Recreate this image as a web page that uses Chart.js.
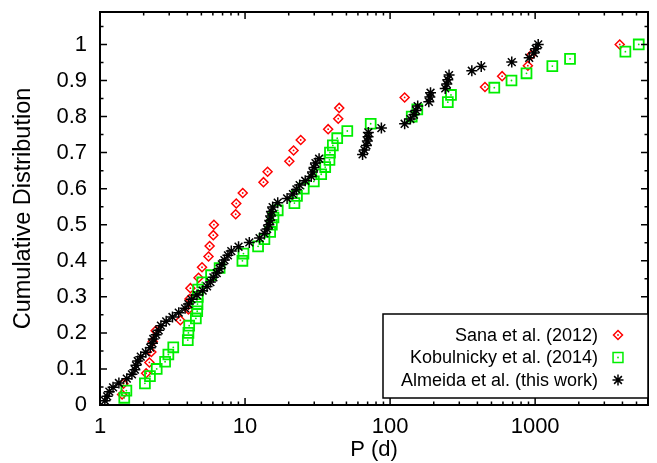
<!DOCTYPE html>
<html>
<head>
<meta charset="utf-8">
<script src="https://cdn.jsdelivr.net/npm/chart.js@4.4.0/dist/chart.umd.min.js"></script>
<style>
  html, body { margin: 0; padding: 0; background: #fff; }
  canvas { display: block; }
</style>
</head>
<body>
<canvas id="cdf" width="657" height="463"></canvas>
<script>
// axis ticks
const xTicks = [1, 10, 100, 1000];
const xTickLabels = ['1', '10', '100', '1000'];
const yTicks = [0, 0.1, 0.2, 0.3, 0.4, 0.5, 0.6, 0.7, 0.8, 0.9, 1];
const yTickLabels = ['0', '0.1', '0.2', '0.3', '0.4', '0.5', '0.6', '0.7', '0.8', '0.9', '1'];

// Sana et al. (2012): period (d) and cumulative fraction
const sanaP = [1.42, 1.45, 2.08, 2.19, 2.26, 2.31, 2.42, 3.58, 4.07, 4.14,
  4.2, 4.78, 5.05, 5.6, 5.7, 6.04, 6.1, 8.62, 8.7, 9.64,
  13.4, 14.3, 20.2, 21.6, 24.2, 37.4, 43.9, 44.6, 126, 451,
  592, 891, 940, 3830];
const sanaF = [0.029, 0.059, 0.088, 0.118, 0.147, 0.176, 0.206, 0.235, 0.265, 0.294,
  0.324, 0.353, 0.382, 0.412, 0.441, 0.471, 0.5, 0.529, 0.559, 0.588,
  0.618, 0.647, 0.676, 0.706, 0.735, 0.765, 0.794, 0.824, 0.853, 0.882,
  0.912, 0.941, 0.971, 1];

// Kobulnicky et al. (2014)
const kobP = [1.47, 1.52, 2.04, 2.21, 2.46, 2.81, 2.96, 3.2, 4.03, 4.07,
  4.12, 4.58, 4.68, 4.7, 4.72, 4.75, 5.07, 5.83, 6.68, 9.59,
  9.75, 12.3, 13.6, 14.9, 15.3, 15.7, 16.8, 21.9, 22.8, 25.4,
  29.8, 33.5, 35.7, 38.2, 38.5, 40.3, 43.2, 50.7, 73.5, 141,
  154, 250, 263, 523, 687, 872, 1314, 1740, 4190, 5180];
const kobF = [0.02, 0.04, 0.06, 0.08, 0.1, 0.12, 0.14, 0.16, 0.18, 0.2,
  0.22, 0.24, 0.26, 0.28, 0.3, 0.32, 0.34, 0.36, 0.38, 0.4,
  0.42, 0.44, 0.46, 0.48, 0.5, 0.52, 0.54, 0.56, 0.58, 0.6,
  0.62, 0.64, 0.66, 0.68, 0.7, 0.72, 0.74, 0.76, 0.78, 0.8,
  0.82, 0.84, 0.86, 0.88, 0.9, 0.92, 0.94, 0.96, 0.98, 1];

// Almeida et al. (this work)
const almP = [1.08, 1.12, 1.16, 1.23, 1.35, 1.53, 1.66, 1.74, 1.77, 1.82,
  1.91, 2.07, 2.22, 2.3, 2.33, 2.44, 2.54, 2.63, 2.86, 3.16,
  3.49, 3.86, 4.07, 4.27, 4.66, 5.1, 5.47, 5.77, 6.05, 6.38,
  6.68, 6.92, 7.21, 7.62, 8.04, 9.02, 10.7, 12.6, 13.6, 14.2,
  14.6, 14.8, 15.0, 15.2, 15.5, 16.8, 19.5, 21.4, 22.6, 23.8,
  26.0, 28.6, 29.2, 29.9, 30.6, 32.4, 64.6, 66.5, 68.7, 69.7,
  70.5, 70.8, 87.1, 126, 138, 146, 151, 155, 185, 188,
  190, 240, 246, 250, 255, 366, 425, 690, 910, 980,
  1010, 1050];
const almF = [0.012, 0.024, 0.037, 0.049, 0.061, 0.073, 0.085, 0.098, 0.11, 0.122,
  0.134, 0.146, 0.159, 0.171, 0.183, 0.195, 0.207, 0.22, 0.232, 0.244,
  0.256, 0.268, 0.28, 0.293, 0.305, 0.317, 0.329, 0.341, 0.354, 0.366,
  0.378, 0.39, 0.402, 0.415, 0.427, 0.439, 0.451, 0.463, 0.476, 0.488,
  0.5, 0.512, 0.524, 0.537, 0.549, 0.561, 0.573, 0.585, 0.598, 0.61,
  0.622, 0.634, 0.646, 0.659, 0.671, 0.683, 0.695, 0.707, 0.72, 0.732,
  0.744, 0.756, 0.768, 0.78, 0.793, 0.805, 0.817, 0.829, 0.841, 0.854,
  0.866, 0.878, 0.89, 0.902, 0.915, 0.927, 0.939, 0.951, 0.963, 0.976,
  0.988, 1];

const FONT = "'Liberation Sans', Arial, Helvetica, sans-serif";
const NONE = 'rgba(0,0,0,0)';

const toPoints = (xs, ys) => xs.map((x, i) => ({ x: x, y: ys[i] }));

const series = [
  { label: 'Sana et al. (2012)', p: sanaP, f: sanaF, color: '#ff0000', style: 'rectRot', radius: 4.5, width: 1.5, dot: true, order: 3 },
  { label: 'Kobulnicky et al. (2014)', p: kobP, f: kobF, color: '#00ee00', style: 'rect', radius: 7, width: 1.8, dot: true, order: 2 },
  { label: 'Almeida et al. (this work)', p: almP, f: almF, color: '#000000', style: 'star', radius: 5.5, width: 1.5, dot: false, order: 1 }
];

const datasets = [];
series.forEach(s => {
  datasets.push({
    label: s.label,
    data: toPoints(s.p, s.f),
    pointStyle: s.style,
    pointRadius: s.radius,
    pointBorderWidth: s.width,
    pointBorderColor: s.color,
    pointBackgroundColor: NONE,
    order: s.order
  });
  if (s.dot) {
    datasets.push({
      label: '',
      data: toPoints(s.p, s.f),
      pointStyle: 'circle',
      pointRadius: 0.9,
      pointBorderWidth: 0,
      pointBackgroundColor: s.color,
      order: s.order
    });
  }
});

// inward ticks on all four sides plus the border, gnuplot style
const framePlugin = {
  id: 'frame',
  afterDraw(chart) {
    const { ctx, chartArea: a, scales: { x, y } } = chart;
    ctx.save();
    ctx.strokeStyle = '#000';
    ctx.lineWidth = 1.5;
    ctx.beginPath();
    const hTick = (py, len) => {
      ctx.moveTo(a.left, py); ctx.lineTo(a.left + len, py);
      ctx.moveTo(a.right, py); ctx.lineTo(a.right - len, py);
    };
    const vTick = (px, len) => {
      ctx.moveTo(px, a.bottom); ctx.lineTo(px, a.bottom - len);
      ctx.moveTo(px, a.top); ctx.lineTo(px, a.top + len);
    };
    yTicks.forEach(v => {
      hTick(y.getPixelForValue(v), 7);
      if (v + 0.05 < y.max) hTick(y.getPixelForValue(v + 0.05), 3.5);
    });
    xTicks.forEach(d => {
      vTick(x.getPixelForValue(d), 7);
      for (let m = 2; m <= 9; m++) {
        if (d * m <= x.max) vTick(x.getPixelForValue(d * m), 3.5);
      }
    });
    ctx.stroke();
    ctx.lineWidth = 2;
    ctx.strokeRect(a.left, a.top, a.right - a.left, a.bottom - a.top);
    ctx.restore();
  }
};

// key box in the lower right, text right-aligned then symbol
const keyPlugin = {
  id: 'key',
  afterDraw(chart) {
    const { ctx, chartArea: a } = chart;
    ctx.save();
    const boxL = 383, boxT = 314;
    ctx.fillStyle = '#fff';
    ctx.fillRect(boxL, boxT, a.right - boxL, 84);
    ctx.strokeStyle = '#000';
    ctx.lineWidth = 1.5;
    ctx.strokeRect(boxL, boxT, a.right - boxL, 84);
    ctx.font = '18px ' + FONT;
    ctx.textAlign = 'right';
    ctx.textBaseline = 'middle';
    series.forEach((s, i) => {
      const yy = 335 + i * 22.5;
      ctx.fillStyle = '#000';
      ctx.fillText(s.label, 598, yy + 1);
      ctx.strokeStyle = s.color;
      ctx.fillStyle = NONE;
      Chart.helpers.drawPoint(ctx, { pointStyle: s.style, radius: s.radius, rotation: 0, borderWidth: s.width }, 618, yy);
      if (s.dot) {
        ctx.fillStyle = s.color;
        ctx.beginPath();
        ctx.arc(618, yy, 0.9, 0, Math.PI * 2);
        ctx.fill();
      }
    });
    ctx.restore();
  }
};

new Chart(document.getElementById('cdf'), {
  type: 'scatter',
  data: { datasets: datasets },
  options: {
    responsive: false,
    animation: false,
    events: [],
    layout: { padding: { left: 0, right: 9, top: 12, bottom: 0 } },
    plugins: { legend: { display: false }, tooltip: { enabled: false } },
    scales: {
      x: {
        type: 'logarithmic',
        min: 1,
        max: 6000,
        afterBuildTicks: s => { s.ticks = xTicks.map(v => ({ value: v })); },
        afterFit: s => { s.height = 58; s.paddingLeft = 0; s.paddingRight = 0; },
        grid: { display: false, drawTicks: false },
        border: { display: false },
        ticks: {
          autoSkip: false, maxRotation: 0, padding: 9, color: '#000',
          font: { family: FONT, size: 22 },
          callback: (v, i) => xTickLabels[i]
        },
        title: { display: true, text: 'P (d)', color: '#000', padding: { top: 0, bottom: 0 }, font: { family: FONT, size: 22 } }
      },
      y: {
        type: 'linear',
        min: 0,
        max: 1.09,
        afterBuildTicks: s => { s.ticks = yTicks.map(v => ({ value: v })); },
        afterFit: s => { s.width = 100; s.paddingTop = 0; s.paddingBottom = 0; },
        grid: { display: false, drawTicks: false },
        border: { display: false },
        ticks: {
          autoSkip: false, padding: 13, color: '#000',
          font: { family: FONT, size: 22 },
          callback: (v, i) => yTickLabels[i]
        },
        title: { display: true, text: 'Cumulative Distribution', color: '#000', padding: { top: 9, bottom: 0 }, font: { family: FONT, size: 23.5 } }
      }
    }
  },
  plugins: [framePlugin, keyPlugin]
});
</script>
</body>
</html>
